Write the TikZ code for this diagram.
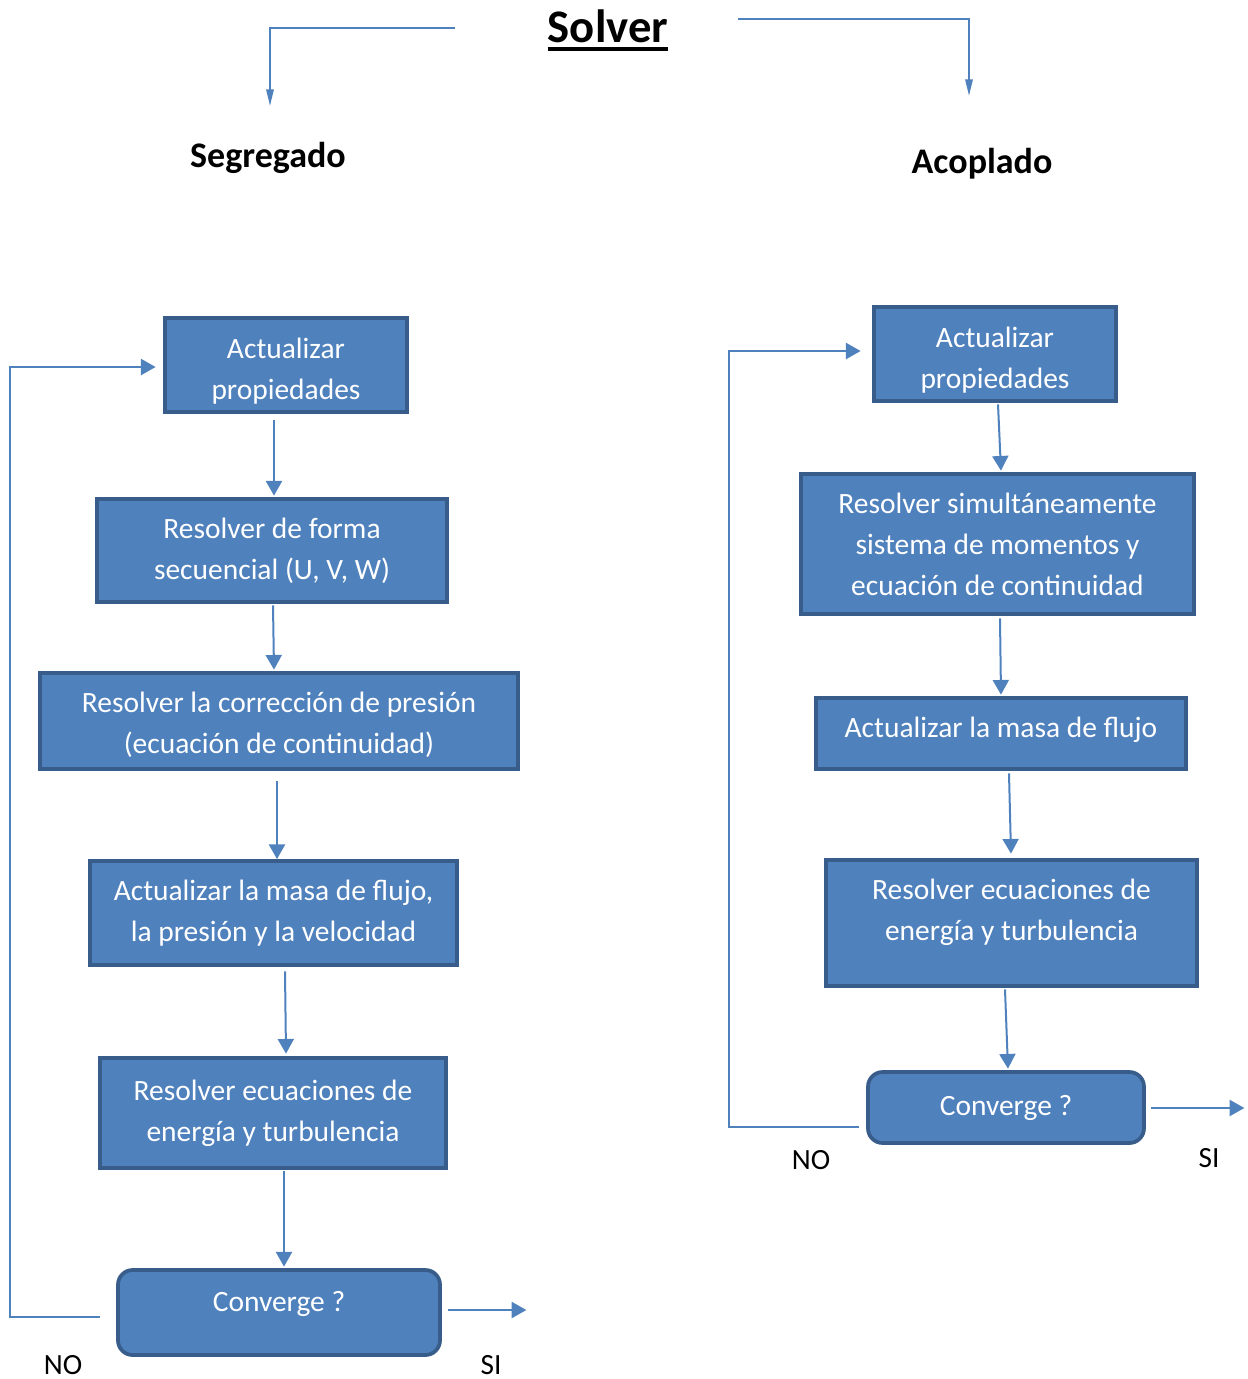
\documentclass[tikz,border=0pt]{standalone}
\usepackage{fontspec}
\setmainfont{Carlito}
\usetikzlibrary{arrows.meta,calc}
\definecolor{bfill}{HTML}{4F81BD}
\definecolor{bdraw}{HTML}{385D8A}
\tikzset{
  box/.style={draw=bdraw, fill=bfill, line width=2.8pt, text=white, align=center,
    inner sep=0pt, font=\fontsize{22.1}{30.75}\selectfont},
  rbox/.style={box, rounded corners=11pt},
  conn/.style={draw=bfill, line width=1.5pt, -{Triangle[length=11pt,width=12pt]}},
  topconn/.style={draw=bfill, line width=1.5pt, -{Triangle[length=12.5pt,width=5.5pt]}},
  lbl/.style={anchor=base, inner sep=0pt, font=\fontsize{22}{26}\selectfont},
  head/.style={anchor=base, inner sep=0pt, font=\fontsize{27}{32}\selectfont\bfseries},
}
\newcommand{\upstrut}[1]{\rule{0pt}{#1}}
\newcommand{\dnstrut}[1]{\rule[-#1]{0pt}{#1}}
\begin{document}
\begin{tikzpicture}[x=0.75pt, y=-0.75pt]
\useasboundingbox (0,0) rectangle (1247,1379);
% titles
\node[anchor=base, inner sep=0pt, font=\fontsize{35}{40}\selectfont\bfseries] (solver) at (608,42) {Solver};
\draw[line width=3pt] ($(solver.base west)+(0,7)$) -- ($(solver.base east)+(0,7)$);
\node[head] (seg) at (268,167) {Segregado};
\node[head] (acop) at (982,173) {Acoplado};
\coordinate (tl0) at ($(solver.base west)+(-93,-14)$);
\coordinate (tl1) at (270,106);
\coordinate (tr0) at ($(solver.base east)+(70,-23)$);
\coordinate (tr1) at (969,96);
\draw[topconn] (tl0) -| (tl1);
\draw[topconn] (tr0) -| (tr1);
% left column
\node[box, minimum width=181.5pt, minimum height=70.5pt] (L1) at (286,365) {\upstrut{24pt}Actualizar\\propiedades};
\node[box, minimum width=262.5pt, minimum height=77.25pt] (L2) at (272,550.5) {Resolver de forma\\secuencial (U, V, W)};
\node[box, minimum width=358.5pt, minimum height=72pt] (L3) at (279,721) {\upstrut{21.5pt}Resolver la corrección de presión\\(ecuación de continuidad)};
\node[box, minimum width=275.25pt, minimum height=78pt] (L4) at (273.5,913) {Actualizar la masa de flujo,\\la presión y la velocidad};
\node[box, minimum width=259.5pt, minimum height=82.5pt] (L5) at (273,1113) {Resolver ecuaciones de\\energía y turbulencia};
\node[rbox, minimum width=241.5pt, minimum height=63.75pt] (L6) at (279,1312.5) {Converge ?\dnstrut{16pt}};
\draw[conn] ($(L1.south)+(-12,6.5)$) -- ($(L2.north)+(2,-1.5)$);
\draw[conn] ($(L2.south)+(1,1.5)$) -- ($(L3.north)+(-5,-1.5)$);
\draw[conn] ($(L3.south)+(-2,10.5)$) -- ($(L4.north)+(3.5,0)$);
\draw[conn] ($(L4.south)+(11.5,4.5)$) -- ($(L5.north)+(13,-2.5)$);
\draw[conn] ($(L5.south)+(11,1.5)$) -- ($(L6.north)+(5,-1.5)$);
\coordinate (lfb) at (10,367);
\draw[conn] ($(L6.west)+(-16.5,4.5)$) -| (lfb) -- ($(L1.west)+(-7.5,2)$);
\coordinate (lsi) at ($(L6.east)+(84.5,-2.5)$);
\draw[conn] ($(L6.east)+(6.5,-2.5)$) -- (lsi);
\node[lbl] (lno) at (63,1374) {NO};
\node[lbl] (lsil) at (491,1374) {SI};
% right column
\node[box, minimum width=181.5pt, minimum height=70.5pt] (R1) at (995,354) {\upstrut{24pt}Actualizar\\propiedades};
\node[box, minimum width=294.75pt, minimum height=105pt] (R2) at (997.5,544) {Resolver simultáneamente\\sistema de momentos y\\ecuación de continuidad};
\node[box, minimum width=277.5pt, minimum height=53.25pt] (R3) at (1001,733.5) {Actualizar la masa de flujo\dnstrut{9pt}};
\node[box, minimum width=278.25pt, minimum height=94.5pt] (R4) at (1011.5,923) {Resolver ecuaciones de\\energía y turbulencia\dnstrut{19.5pt}};
\node[rbox, minimum width=207pt, minimum height=53.25pt] (R5) at (1006,1107.5) {Converge ?};
\draw[conn] ($(R1.south)+(3,1.5)$) -- ($(R2.north)+(3.5,-1.5)$);
\draw[conn] ($(R2.south)+(2.5,2.5)$) -- ($(R3.north)+(0,-1.5)$);
\draw[conn] ($(R3.south)+(8,2.5)$) -- ($(R4.north)+(-0.5,-4.5)$);
\draw[conn] ($(R4.south)+(-6.5,1.5)$) -- ($(R5.north)+(2,-1.5)$);
\coordinate (rfb) at (729,351);
\draw[conn] ($(R5.west)+(-7.5,19.5)$) -| (rfb) -- ($(R1.west)+(-11.5,-3)$);
\coordinate (rsi) at ($(R5.east)+(98.5,0.5)$);
\draw[conn] ($(R5.east)+(5.5,0.5)$) -- (rsi);
\node[lbl] (rno) at (811,1169) {NO};
\node[lbl] (rsil) at (1209,1167) {SI};
\end{tikzpicture}
\end{document}
